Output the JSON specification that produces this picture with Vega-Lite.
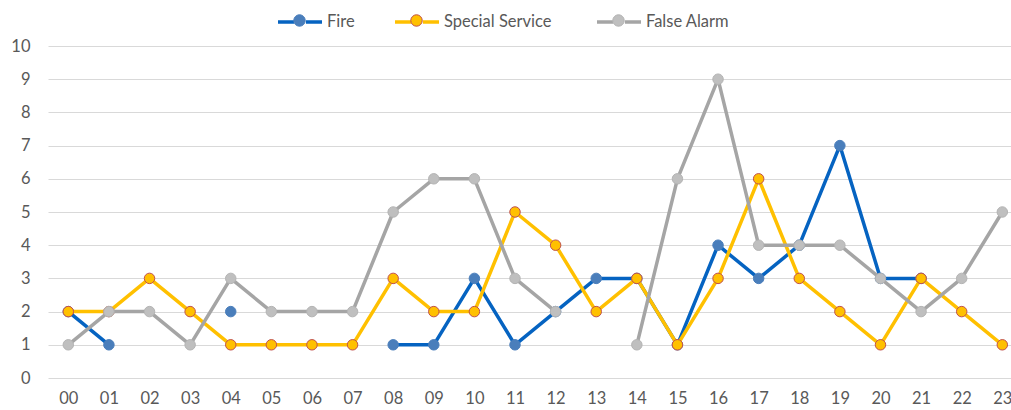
{
  "$schema": "https://vega.github.io/schema/vega-lite/v6.json",
  "width": 963,
  "height": 332,
  "autosize": {"type": "none"},
  "padding": {"left": 48, "top": 46, "right": 0, "bottom": 32},
  "background": "white",
  "config": {
    "view": {"stroke": null},
    "font": "Lato",
    "axis": {"labelFont": "Lato", "labelFontSize": 16.5, "labelColor": "#595959"},
    "legend": {
      "labelFont": "Lato", "labelFontSize": 16.5, "labelColor": "#595959",
      "orient": "none", "legendY": -48, "direction": "horizontal", "title": null,
      "symbolSize": 1936, "labelOffset": 3
    }
  },
  "data": {
    "values": [
      {"hour": 0, "series": "Fire", "count": 2},
      {"hour": 1, "series": "Fire", "count": 1},
      {"hour": 2, "series": "Fire", "count": null},
      {"hour": 3, "series": "Fire", "count": null},
      {"hour": 4, "series": "Fire", "count": 2},
      {"hour": 5, "series": "Fire", "count": null},
      {"hour": 6, "series": "Fire", "count": null},
      {"hour": 7, "series": "Fire", "count": null},
      {"hour": 8, "series": "Fire", "count": 1},
      {"hour": 9, "series": "Fire", "count": 1},
      {"hour": 10, "series": "Fire", "count": 3},
      {"hour": 11, "series": "Fire", "count": 1},
      {"hour": 12, "series": "Fire", "count": 2},
      {"hour": 13, "series": "Fire", "count": 3},
      {"hour": 14, "series": "Fire", "count": 3},
      {"hour": 15, "series": "Fire", "count": 1},
      {"hour": 16, "series": "Fire", "count": 4},
      {"hour": 17, "series": "Fire", "count": 3},
      {"hour": 18, "series": "Fire", "count": 4},
      {"hour": 19, "series": "Fire", "count": 7},
      {"hour": 20, "series": "Fire", "count": 3},
      {"hour": 21, "series": "Fire", "count": 3},
      {"hour": 22, "series": "Fire", "count": null},
      {"hour": 23, "series": "Fire", "count": null},
      {"hour": 0, "series": "Special Service", "count": 2},
      {"hour": 1, "series": "Special Service", "count": 2},
      {"hour": 2, "series": "Special Service", "count": 3},
      {"hour": 3, "series": "Special Service", "count": 2},
      {"hour": 4, "series": "Special Service", "count": 1},
      {"hour": 5, "series": "Special Service", "count": 1},
      {"hour": 6, "series": "Special Service", "count": 1},
      {"hour": 7, "series": "Special Service", "count": 1},
      {"hour": 8, "series": "Special Service", "count": 3},
      {"hour": 9, "series": "Special Service", "count": 2},
      {"hour": 10, "series": "Special Service", "count": 2},
      {"hour": 11, "series": "Special Service", "count": 5},
      {"hour": 12, "series": "Special Service", "count": 4},
      {"hour": 13, "series": "Special Service", "count": 2},
      {"hour": 14, "series": "Special Service", "count": 3},
      {"hour": 15, "series": "Special Service", "count": 1},
      {"hour": 16, "series": "Special Service", "count": 3},
      {"hour": 17, "series": "Special Service", "count": 6},
      {"hour": 18, "series": "Special Service", "count": 3},
      {"hour": 19, "series": "Special Service", "count": 2},
      {"hour": 20, "series": "Special Service", "count": 1},
      {"hour": 21, "series": "Special Service", "count": 3},
      {"hour": 22, "series": "Special Service", "count": 2},
      {"hour": 23, "series": "Special Service", "count": 1},
      {"hour": 0, "series": "False Alarm", "count": 1},
      {"hour": 1, "series": "False Alarm", "count": 2},
      {"hour": 2, "series": "False Alarm", "count": 2},
      {"hour": 3, "series": "False Alarm", "count": 1},
      {"hour": 4, "series": "False Alarm", "count": 3},
      {"hour": 5, "series": "False Alarm", "count": 2},
      {"hour": 6, "series": "False Alarm", "count": 2},
      {"hour": 7, "series": "False Alarm", "count": 2},
      {"hour": 8, "series": "False Alarm", "count": 5},
      {"hour": 9, "series": "False Alarm", "count": 6},
      {"hour": 10, "series": "False Alarm", "count": 6},
      {"hour": 11, "series": "False Alarm", "count": 3},
      {"hour": 12, "series": "False Alarm", "count": 2},
      {"hour": 13, "series": "False Alarm", "count": null},
      {"hour": 14, "series": "False Alarm", "count": 1},
      {"hour": 15, "series": "False Alarm", "count": 6},
      {"hour": 16, "series": "False Alarm", "count": 9},
      {"hour": 17, "series": "False Alarm", "count": 4},
      {"hour": 18, "series": "False Alarm", "count": 4},
      {"hour": 19, "series": "False Alarm", "count": 4},
      {"hour": 20, "series": "False Alarm", "count": 3},
      {"hour": 21, "series": "False Alarm", "count": 2},
      {"hour": 22, "series": "False Alarm", "count": 3},
      {"hour": 23, "series": "False Alarm", "count": 5}
    ]
  },
  "encoding": {
    "x": {
      "field": "hour",
      "type": "quantitative",
      "scale": {"domain": [-0.5, 23.214], "nice": false, "zero": false},
      "axis": {"title": null, "values": [0, 1, 2, 3, 4, 5, 6, 7, 8, 9, 10, 11, 12, 13, 14, 15, 16, 17, 18, 19, 20, 21, 22, 23], "format": "02d", "labelAngle": 0, "domain": false, "ticks": false, "grid": false, "labelPadding": 12, "labelFlush": false, "labelOverlap": false}
    },
    "y": {
      "field": "count",
      "type": "quantitative",
      "scale": {"domain": [0, 10], "nice": false, "zero": true},
      "axis": {"title": null, "values": [0, 1, 2, 3, 4, 5, 6, 7, 8, 9, 10], "domain": false, "ticks": false, "grid": true, "gridColor": "#d9d9d9", "gridWidth": 1, "labelPadding": 18, "labelFlush": false}
    }
  },
  "layer": [
    {
      "transform": [{"filter": "datum.series === 'Fire'"}],
      "mark": {"type": "line", "strokeWidth": 3.5, "strokeJoin": "round", "strokeCap": "round", "invalid": "break-paths-filter-domains"},
      "encoding": {
        "color": {
          "field": "series", "type": "nominal",
          "scale": {"domain": ["Fire"], "range": ["#0563C1"]},
          "legend": {"legendX": 228, "symbolType": "M-1,0L-0.27,0M0.27,0L1,0", "symbolStrokeWidth": 3.5}
        }
      }
    },
    {
      "transform": [{"filter": "datum.series === 'Fire'"}],
      "mark": {"type": "point", "filled": true, "size": 110, "strokeWidth": 1, "opacity": 1, "invalid": "filter"},
      "encoding": {
        "fill": {
          "field": "series", "type": "nominal",
          "scale": {"domain": ["Fire"], "range": ["#4A7EBB"]},
          "legend": {"legendX": 229, "labelExpr": "''", "symbolStrokeWidth": 1, "symbolType": "M-1,0M1,0M-0.26,0A0.26,0.26,0,1,0,0.26,0A0.26,0.26,0,1,0,-0.26,0Z"}
        },
        "stroke": {
          "field": "series", "type": "nominal",
          "scale": {"domain": ["Fire"], "range": ["#4A7EBB"]},
          "legend": {"legendX": 229, "labelExpr": "''", "symbolStrokeWidth": 1, "symbolType": "M-1,0M1,0M-0.26,0A0.26,0.26,0,1,0,0.26,0A0.26,0.26,0,1,0,-0.26,0Z"}
        }
      }
    },
    {
      "transform": [{"filter": "datum.series === 'Special Service'"}],
      "mark": {"type": "line", "strokeWidth": 3.5, "strokeJoin": "round", "strokeCap": "round", "invalid": "break-paths-filter-domains"},
      "encoding": {
        "color": {
          "field": "series", "type": "nominal",
          "scale": {"domain": ["Special Service"], "range": ["#FFC000"]},
          "legend": {"legendX": 345, "symbolType": "M-1,0L-0.27,0M0.27,0L1,0", "symbolStrokeWidth": 3.5}
        }
      }
    },
    {
      "transform": [{"filter": "datum.series === 'Special Service'"}],
      "mark": {"type": "point", "filled": true, "size": 110, "strokeWidth": 1, "opacity": 1, "invalid": "filter"},
      "encoding": {
        "fill": {
          "field": "series", "type": "nominal",
          "scale": {"domain": ["Special Service"], "range": ["#FFC000"]},
          "legend": {"legendX": 346, "labelExpr": "''", "symbolStrokeWidth": 1, "symbolType": "M-1,0M1,0M-0.26,0A0.26,0.26,0,1,0,0.26,0A0.26,0.26,0,1,0,-0.26,0Z"}
        },
        "stroke": {
          "field": "series", "type": "nominal",
          "scale": {"domain": ["Special Service"], "range": ["#C0504D"]},
          "legend": {"legendX": 346, "labelExpr": "''", "symbolStrokeWidth": 1, "symbolType": "M-1,0M1,0M-0.26,0A0.26,0.26,0,1,0,0.26,0A0.26,0.26,0,1,0,-0.26,0Z"}
        }
      }
    },
    {
      "transform": [{"filter": "datum.series === 'False Alarm'"}],
      "mark": {"type": "line", "strokeWidth": 3.5, "strokeJoin": "round", "strokeCap": "round", "invalid": "break-paths-filter-domains"},
      "encoding": {
        "color": {
          "field": "series", "type": "nominal",
          "scale": {"domain": ["False Alarm"], "range": ["#A5A5A5"]},
          "legend": {"legendX": 547, "symbolType": "M-1,0L-0.27,0M0.27,0L1,0", "symbolStrokeWidth": 3.5}
        }
      }
    },
    {
      "transform": [{"filter": "datum.series === 'False Alarm'"}],
      "mark": {"type": "point", "filled": true, "size": 110, "strokeWidth": 1, "opacity": 1, "invalid": "filter"},
      "encoding": {
        "fill": {
          "field": "series", "type": "nominal",
          "scale": {"domain": ["False Alarm"], "range": ["#BFBFBF"]},
          "legend": {"legendX": 548, "labelExpr": "''", "symbolStrokeWidth": 1, "symbolType": "M-1,0M1,0M-0.26,0A0.26,0.26,0,1,0,0.26,0A0.26,0.26,0,1,0,-0.26,0Z"}
        },
        "stroke": {
          "field": "series", "type": "nominal",
          "scale": {"domain": ["False Alarm"], "range": ["#B4B4B4"]},
          "legend": {"legendX": 548, "labelExpr": "''", "symbolStrokeWidth": 1, "symbolType": "M-1,0M1,0M-0.26,0A0.26,0.26,0,1,0,0.26,0A0.26,0.26,0,1,0,-0.26,0Z"}
        }
      }
    }
  ],
  "resolve": {
    "scale": {"color": "independent", "fill": "independent", "stroke": "independent"},
    "legend": {"color": "independent", "fill": "independent", "stroke": "independent"}
  }
}
